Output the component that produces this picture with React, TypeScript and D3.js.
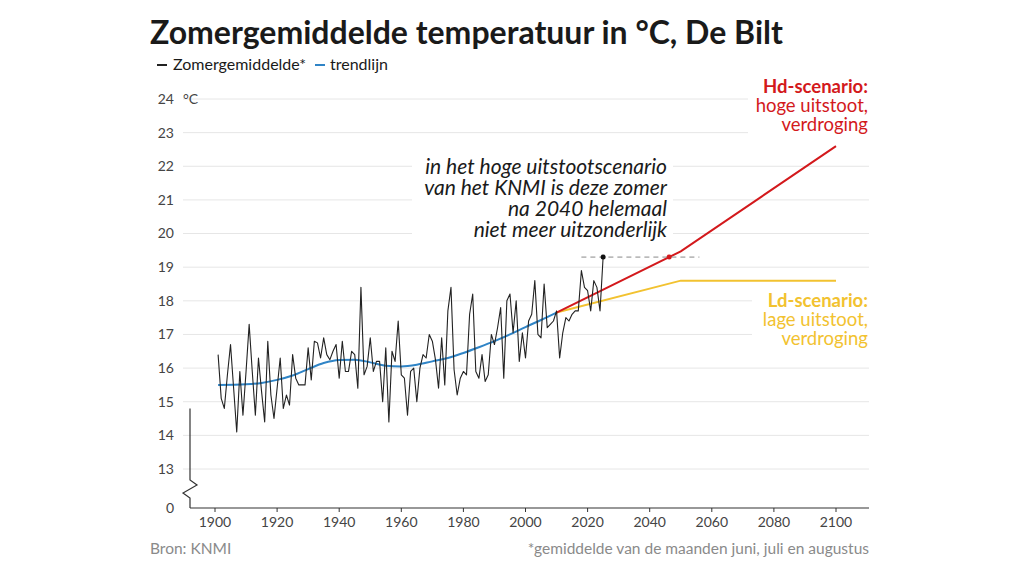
import React, { useRef, useEffect } from "react"
import * as d3 from "d3"

// Observed summer means, De Bilt (1901-2025)
const firstYear = 1901
const summerTemps: number[] = [
  16.4, 15.1, 14.8, 15.8, 16.7, 15.4, 14.1, 15.9, 14.6, 15.9,
  17.3, 15.9, 14.6, 16.3, 15.3, 14.4, 16.8, 15.2, 14.5, 15.4,
  16.3, 14.8, 15.2, 14.9, 16.4, 15.7, 15.5, 15.5, 15.5, 16.6,
  15.65, 16.8, 16.75, 16.3, 16.9, 16.4, 16.25, 16.5, 16.7, 15.7,
  16.8, 15.9, 15.9, 16.5, 16.4, 15.4, 18.4, 15.8, 16.05, 16.9,
  15.9, 16.2, 16.2, 15.0, 16.6, 14.4, 16.5, 16.2, 17.4, 15.8,
  15.7, 14.6, 15.9, 16.0, 15.0, 16.0, 16.4, 16.3, 17.0, 16.8,
  16.25, 15.4, 16.9, 15.5, 17.7, 18.4, 15.95, 15.2, 15.7, 15.9,
  15.8, 17.6, 18.2, 15.9, 15.7, 16.4, 15.6, 15.8, 17.0, 16.7,
  17.2, 17.8, 15.7, 18.0, 18.2, 17.05, 18.0, 16.2, 17.05, 16.3,
  17.4, 17.6, 18.6, 17.0, 16.9, 18.5, 17.2, 17.3, 17.4, 17.7,
  16.3, 17.05, 17.5, 17.4, 17.6, 17.7, 17.7, 18.9, 18.4, 18.3,
  17.7, 18.6, 18.4, 17.7, 19.3,
]

// Trend line
const trendYears = [1901, 1910, 1915, 1920, 1925, 1930, 1935, 1940, 1945, 1950, 1955, 1960, 1965, 1970, 1975, 1980, 1985, 1990, 1995, 2000, 2005, 2010]
const trendTemps = [15.5, 15.52, 15.56, 15.65, 15.78, 15.97, 16.15, 16.24, 16.25, 16.17, 16.07, 16.05, 16.1, 16.2, 16.3, 16.45, 16.62, 16.8, 17.0, 17.22, 17.43, 17.65]

// KNMI scenarios
const scenarioYears = [2010, 2050, 2100]
const hdTemps = [17.65, 19.47, 22.6]
const ldTemps = [17.65, 18.6, 18.6]

// Reference level of the latest summer
const refLevel = 19.3
const refSpan = [2018, 2056]

const yTicks = [0, 13, 14, 15, 16, 17, 18, 19, 20, 21, 22, 23, 24]
const xTicks = [1900, 1920, 1940, 1960, 1980, 2000, 2020, 2040, 2060, 2080, 2100]

const annotation = [
  "in het hoge uitstootscenario",
  "van het KNMI is deze zomer",
  "na 2040 helemaal",
  "niet meer uitzonderlijk",
]

const FONT = "Lato, 'Noto Sans', sans-serif"
const RED = "#d3191c"
const YELLOW = "#f2c230"
const BLUE = "#2f84c6"

const App: React.FC = () => {
  const svgRef = useRef<SVGSVGElement | null>(null)

  useEffect(() => {
    const svg = d3.select(svgRef.current)
    svg.selectAll("*").remove()

    const x = d3.scaleLinear().domain([1900, 2100]).range([215, 836])
    // broken axis: 0 sits just below 13
    const y = d3.scaleLinear().domain([0, 13, 24]).range([508, 469, 99])

    const gridLeft = 183
    const gridRight = 869

    // grid
    svg.append("g")
      .selectAll("line")
      .data(yTicks.filter(t => t > 0))
      .enter()
      .append("line")
      .attr("x1", gridLeft)
      .attr("x2", gridRight)
      .attr("y1", d => y(d))
      .attr("y2", d => y(d))
      .attr("stroke", "#e6e6e6")
      .attr("stroke-width", 1)

    // y labels
    svg.append("g")
      .selectAll("text")
      .data(yTicks)
      .enter()
      .append("text")
      .attr("x", 174)
      .attr("y", d => y(d))
      .attr("dy", "0.35em")
      .attr("text-anchor", "end")
      .attr("font-family", FONT)
      .attr("font-size", 14)
      .attr("fill", "#444")
      .text(d => d)

    svg.append("text")
      .attr("x", 183)
      .attr("y", y(24))
      .attr("dy", "0.35em")
      .attr("font-family", FONT)
      .attr("font-size", 14)
      .attr("fill", "#444")
      .text("°C")

    // left axis with break symbol
    const ax = 190
    const breakTop = y(0) - 28
    const axisPath = d3.path()
    axisPath.moveTo(ax, y(14.8))
    axisPath.lineTo(ax, breakTop)
    axisPath.lineTo(ax + 7, breakTop + 5)
    axisPath.lineTo(ax - 7, breakTop + 13)
    axisPath.lineTo(ax, breakTop + 18)
    axisPath.lineTo(ax, y(0))
    svg.append("path")
      .attr("d", axisPath.toString())
      .attr("fill", "none")
      .attr("stroke", "#333")
      .attr("stroke-width", 1.2)

    // x axis
    svg.append("line")
      .attr("x1", ax)
      .attr("x2", gridRight)
      .attr("y1", y(0))
      .attr("y2", y(0))
      .attr("stroke", "#333")
      .attr("stroke-width", 1.2)

    const xg = svg.append("g")
    xg.selectAll("line")
      .data(xTicks)
      .enter()
      .append("line")
      .attr("x1", d => x(d))
      .attr("x2", d => x(d))
      .attr("y1", y(0))
      .attr("y2", y(0) + 4)
      .attr("stroke", "#333")
    xg.selectAll("text")
      .data(xTicks)
      .enter()
      .append("text")
      .attr("x", d => x(d))
      .attr("y", 527)
      .attr("text-anchor", "middle")
      .attr("font-family", FONT)
      .attr("font-size", 14)
      .attr("fill", "#444")
      .text(d => d)

    // white boxes behind labels (hide the grid)
    const boxes = [
      { x0: 412, x1: 673, y0: 155, y1: 244 },
      { x0: 748, x1: 872, y0: 76, y1: 138 },
      { x0: 752, x1: 872, y0: 292, y1: 351 },
    ]
    svg.append("g")
      .selectAll("rect")
      .data(boxes)
      .enter()
      .append("rect")
      .attr("x", d => d.x0)
      .attr("y", d => d.y0)
      .attr("width", d => d.x1 - d.x0)
      .attr("height", d => d.y1 - d.y0)
      .attr("fill", "#fff")

    const line = d3.line<[number, number]>()
      .x(d => x(d[0]))
      .y(d => y(d[1]))

    // scenarios
    const hd = scenarioYears.map((yr, i) => [yr, hdTemps[i]] as [number, number])
    const ld = scenarioYears.map((yr, i) => [yr, ldTemps[i]] as [number, number])
    svg.append("path")
      .attr("d", line(ld))
      .attr("fill", "none")
      .attr("stroke", YELLOW)
      .attr("stroke-width", 2)
    svg.append("path")
      .attr("d", line(hd))
      .attr("fill", "none")
      .attr("stroke", RED)
      .attr("stroke-width", 2)

    // reference level
    svg.append("line")
      .attr("x1", x(refSpan[0]))
      .attr("x2", x(refSpan[1]))
      .attr("y1", y(refLevel))
      .attr("y2", y(refLevel))
      .attr("stroke", "#888")
      .attr("stroke-width", 1)
      .attr("stroke-dasharray", "5,4")

    // where Hd scenario reaches the reference level
    const hdYear = d3.scaleLinear().domain(hdTemps.slice(0, 2)).range(scenarioYears.slice(0, 2))(refLevel)
    svg.append("circle")
      .attr("cx", x(hdYear))
      .attr("cy", y(refLevel))
      .attr("r", 2.5)
      .attr("fill", RED)

    // trend
    const trend = trendYears.map((yr, i) => [yr, trendTemps[i]] as [number, number])
    svg.append("path")
      .attr("d", line.curve(d3.curveMonotoneX)(trend))
      .attr("fill", "none")
      .attr("stroke", BLUE)
      .attr("stroke-width", 2)
    line.curve(d3.curveLinear)

    // observations
    const obs = summerTemps.map((t, i) => [firstYear + i, t] as [number, number])
    svg.append("path")
      .attr("d", line(obs))
      .attr("fill", "none")
      .attr("stroke", "#222")
      .attr("stroke-width", 1.1)
      .attr("stroke-linejoin", "round")

    const last = obs[obs.length - 1]
    svg.append("circle")
      .attr("cx", x(last[0]))
      .attr("cy", y(last[1]))
      .attr("r", 2.5)
      .attr("fill", "#111")

    // annotation
    svg.append("g")
      .selectAll("text")
      .data(annotation)
      .enter()
      .append("text")
      .attr("x", 667)
      .attr("y", (_d, i) => 174 + i * 21)
      .attr("text-anchor", "end")
      .attr("font-family", FONT)
      .attr("font-style", "italic")
      .attr("font-size", 21)
      .attr("fill", "#1a1a1a")
      .text(d => d)

    // scenario labels
    const scenarioLabel = (lines: string[], top: number, color: string) => {
      const g = svg.append("g")
      lines.forEach((t, i) => {
        g.append("text")
          .attr("x", 868)
          .attr("y", top + i * 19)
          .attr("text-anchor", "end")
          .attr("font-family", FONT)
          .attr("font-size", 18.5)
          .attr("font-weight", i === 0 ? 700 : 400)
          .attr("fill", color)
          .text(t)
      })
    }
    scenarioLabel(["Hd-scenario:", "hoge uitstoot,", "verdroging"], 93, RED)
    scenarioLabel(["Ld-scenario:", "lage uitstoot,", "verdroging"], 307, YELLOW)

    // title
    svg.append("text")
      .attr("x", 150)
      .attr("y", 44)
      .attr("font-family", FONT)
      .attr("font-weight", 700)
      .attr("font-size", 32)
      .attr("fill", "#1a1a1a")
      .text("Zomergemiddelde temperatuur in °C, De Bilt")

    // legend
    const legend = svg.append("g")
    legend.append("line")
      .attr("x1", 157).attr("x2", 167).attr("y1", 65).attr("y2", 65)
      .attr("stroke", "#222").attr("stroke-width", 2)
    legend.append("text")
      .attr("x", 173).attr("y", 70)
      .attr("font-family", FONT).attr("font-size", 16).attr("fill", "#1a1a1a")
      .text("Zomergemiddelde*")
    legend.append("line")
      .attr("x1", 315).attr("x2", 325).attr("y1", 65).attr("y2", 65)
      .attr("stroke", BLUE).attr("stroke-width", 2)
    legend.append("text")
      .attr("x", 330).attr("y", 70)
      .attr("font-family", FONT).attr("font-size", 16).attr("fill", "#1a1a1a")
      .text("trendlijn")

    // footer
    svg.append("text")
      .attr("x", 150).attr("y", 554)
      .attr("font-family", FONT).attr("font-size", 15.5).attr("fill", "#8a8a8a")
      .text("Bron: KNMI")
    svg.append("text")
      .attr("x", 869).attr("y", 554)
      .attr("text-anchor", "end")
      .attr("font-family", FONT).attr("font-size", 15.5).attr("fill", "#8a8a8a")
      .text("*gemiddelde van de maanden juni, juli en augustus")
  }, [])

  return (
    <svg
      ref={svgRef}
      width={1024}
      height={576}
      viewBox="0 0 1024 576"
      style={{ position: "absolute", left: 0, top: 0, background: "#fff" }}
    />
  )
}

export default App
